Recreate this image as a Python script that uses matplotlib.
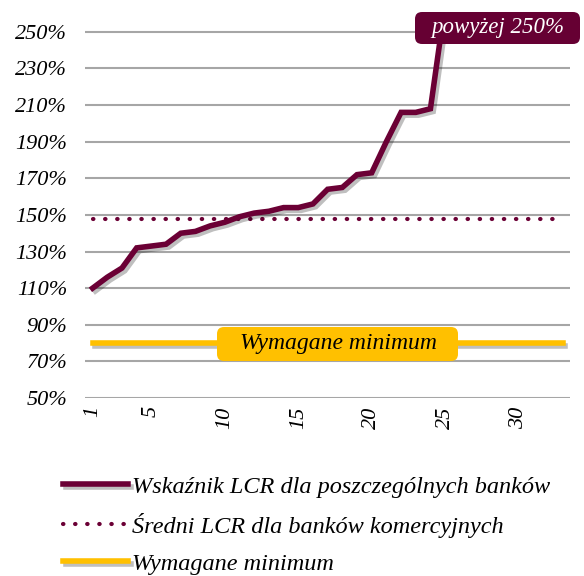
import matplotlib.pyplot as plt
import matplotlib.patheffects as pe
from matplotlib.patches import FancyBboxPatch

# Data
bank_no = list(range(1, 26))
lcr_values = [110, 116, 121, 132, 133, 134, 140, 141, 144, 146, 149, 151, 152,
              154, 154, 156, 164, 165, 172, 173, 190, 206, 206, 208, 265]
n_banks = 33
mean_lcr = 148
required_min = 80
y_ticks = [50, 70, 90, 110, 130, 150, 170, 190, 210, 230, 250]
x_ticks = [1, 5, 10, 15, 20, 25, 30]

maroon = '#6B0035'
yellow = '#FFC000'
font = ['Liberation Serif', 'DejaVu Serif']

fig = plt.figure(figsize=(5.84, 5.76), dpi=100)
ax = fig.add_axes([0.146, 0.309, 0.83, 0.658])

shadow = [pe.SimpleLineShadow(offset=(2, -2), alpha=0.25, rho=0.5), pe.Normal()]

full_x = [1, n_banks]
l1, = ax.plot(bank_no, lcr_values, color=maroon, lw=4, solid_joinstyle='miter',
              path_effects=shadow, zorder=4, label='Wskaźnik LCR dla poszczególnych banków')
l2, = ax.plot(full_x, [mean_lcr] * 2, color=maroon, lw=3, linestyle=(0, (0.1, 2.8)),
              dash_capstyle='round', zorder=3, label='Średni LCR dla banków komercyjnych')
l3, = ax.plot(full_x, [required_min] * 2, color=yellow, lw=4,
              path_effects=shadow, zorder=3, label='Wymagane minimum')

ax.set_xlim(0.5, n_banks + 0.5)
ax.set_ylim(50, 257)
ax.set_yticks(y_ticks)
ax.set_yticklabels([f'{v}%' for v in y_ticks])
ax.set_xticks(x_ticks)
ax.set_xticklabels([str(v) for v in x_ticks], rotation=90)
ax.yaxis.grid(True, color='#A6A6A6', lw=1.5)
ax.set_axisbelow(True)
for s in ax.spines.values():
    s.set_visible(False)
ax.tick_params(axis='y', length=0, pad=13)
ax.tick_params(axis='x', length=0, pad=6)
for lab in ax.get_xticklabels() + ax.get_yticklabels():
    lab.set_family(font)
    lab.set_style('italic')
    lab.set_fontsize(16)


def label_box(x0, y0, x1, y1, color):
    # rounded box in pixel coords of the figure (y from top)
    box = FancyBboxPatch((x0 / 584, 1 - y1 / 576), (x1 - x0) / 584, (y1 - y0) / 576,
                         boxstyle='round,pad=0,rounding_size=0.012',
                         transform=fig.transFigure, fc=color, ec='none', zorder=9)
    fig.patches.append(box)


label_box(415, 12, 580, 44, '#660033')
fig.text(498 / 584, 1 - 28 / 576, 'powyżej 250%', ha='center', va='center',
         family=font, style='italic', fontsize=16.5, color='white', zorder=10)
label_box(217, 327, 458, 361, yellow)
fig.text(338 / 584, 1 - 344 / 576, 'Wymagane minimum', ha='center', va='center',
         family=font, style='italic', fontsize=17, color='black', zorder=10)

# Legend
fig.legend(handles=[l1, l2, l3], loc='center left', bbox_to_anchor=(0.07, 0.088),
           frameon=False, handlelength=2.7, handletextpad=0.15, labelspacing=0.62,
           prop={'family': font, 'style': 'italic', 'size': 17.5})

plt.savefig('out.png', dpi=100)
plt.close()
